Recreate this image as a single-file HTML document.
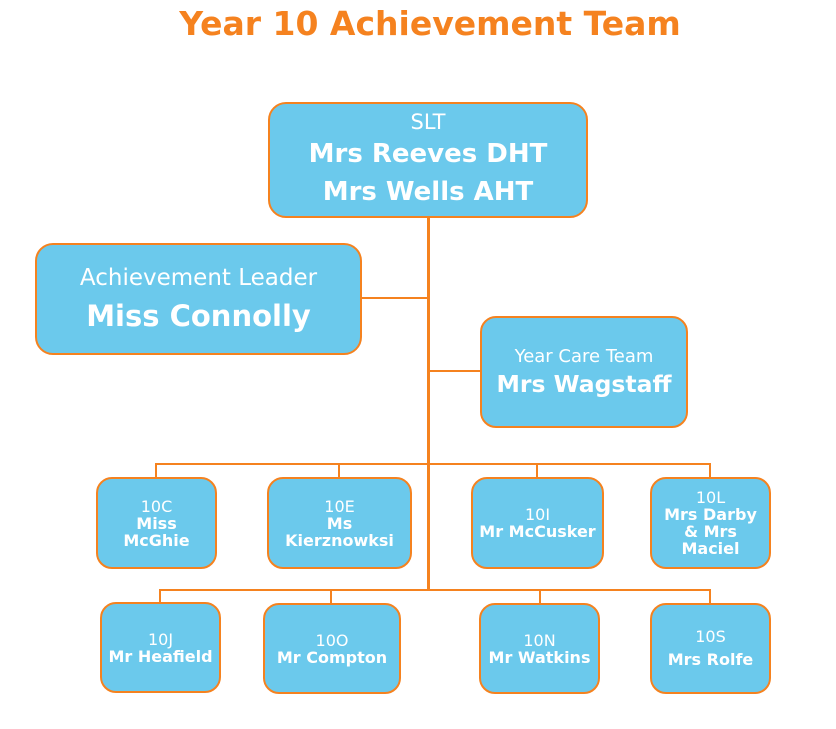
<!DOCTYPE html>
<html><head><meta charset="utf-8"><style>
body{margin:0;width:836px;height:729px;background:#fff;position:relative;font-family:"DejaVu Sans","Liberation Sans",sans-serif;overflow:hidden}
.b{position:absolute;box-sizing:border-box;background:#6BC9EC;border:2px solid #F5821F;border-radius:16px;color:#fff;text-align:center;display:flex;flex-direction:column;justify-content:center;align-items:center}
.l{position:absolute;background:#F5821F}
.s{font-size:16px;line-height:17px}
.s b{font-size:16px}
</style></head><body>
<div style="position:absolute;left:0;width:860px;top:4px;text-align:center;color:#F5821F;font-weight:bold;font-size:33px">Year 10 Achievement Team</div>

<div class="l" style="left:427px;top:216px;width:2.5px;height:375px"></div>
<div class="l" style="left:360px;top:297px;width:68px;height:2px"></div>
<div class="l" style="left:428px;top:370px;width:53px;height:2px"></div>
<div class="l" style="left:155px;top:463px;width:556px;height:2px"></div>
<div class="l" style="left:155px;top:463px;width:2px;height:15px"></div>
<div class="l" style="left:338px;top:463px;width:2px;height:15px"></div>
<div class="l" style="left:536px;top:463px;width:2px;height:15px"></div>
<div class="l" style="left:709px;top:463px;width:2px;height:15px"></div>
<div class="l" style="left:159px;top:589px;width:552px;height:2px"></div>
<div class="l" style="left:159px;top:589px;width:2px;height:14px"></div>
<div class="l" style="left:330px;top:589px;width:2px;height:15px"></div>
<div class="l" style="left:539px;top:589px;width:2px;height:15px"></div>
<div class="l" style="left:709px;top:589px;width:2px;height:15px"></div>

<div class="b" style="left:268px;top:102px;width:320px;height:116px;border-radius:18px">
<div style="font-size:21px;line-height:26px">SLT</div>
<div style="font-size:26px;font-weight:bold;line-height:38px">Mrs Reeves DHT</div>
<div style="font-size:26px;font-weight:bold;line-height:38px">Mrs Wells AHT</div></div>

<div class="b" style="left:35px;top:243px;width:327px;height:112px;border-radius:18px">
<div style="font-size:23px;line-height:34px">Achievement Leader</div>
<div style="font-size:29px;font-weight:bold;line-height:42px">Miss Connolly</div></div>

<div class="b" style="left:480px;top:316px;width:208px;height:112px">
<div style="font-size:18px;line-height:24px">Year Care Team</div>
<div style="font-size:23.5px;font-weight:bold;line-height:30px">Mrs Wagstaff</div></div>

<div class="b s" style="left:96px;top:477px;width:121px;height:92px"><div>10C</div><b>Miss<br>McGhie</b></div>
<div class="b s" style="left:267px;top:477px;width:145px;height:92px"><div>10E</div><b>Ms<br>Kierznowksi</b></div>
<div class="b s" style="left:471px;top:477px;width:133px;height:92px"><div>10I</div><b>Mr McCusker</b></div>
<div class="b s" style="left:650px;top:477px;width:121px;height:92px"><div>10L</div><b>Mrs Darby<br>&amp; Mrs<br>Maciel</b></div>

<div class="b s" style="left:100px;top:602px;width:121px;height:91px"><div>10J</div><b>Mr Heafield</b></div>
<div class="b s" style="left:263px;top:603px;width:138px;height:91px"><div>10O</div><b>Mr Compton</b></div>
<div class="b s" style="left:479px;top:603px;width:121px;height:91px"><div>10N</div><b>Mr Watkins</b></div>
<div class="b s" style="left:650px;top:603px;width:121px;height:91px"><div style="line-height:22px">10S</div><b style="line-height:24px">Mrs Rolfe</b></div>
</body></html>
